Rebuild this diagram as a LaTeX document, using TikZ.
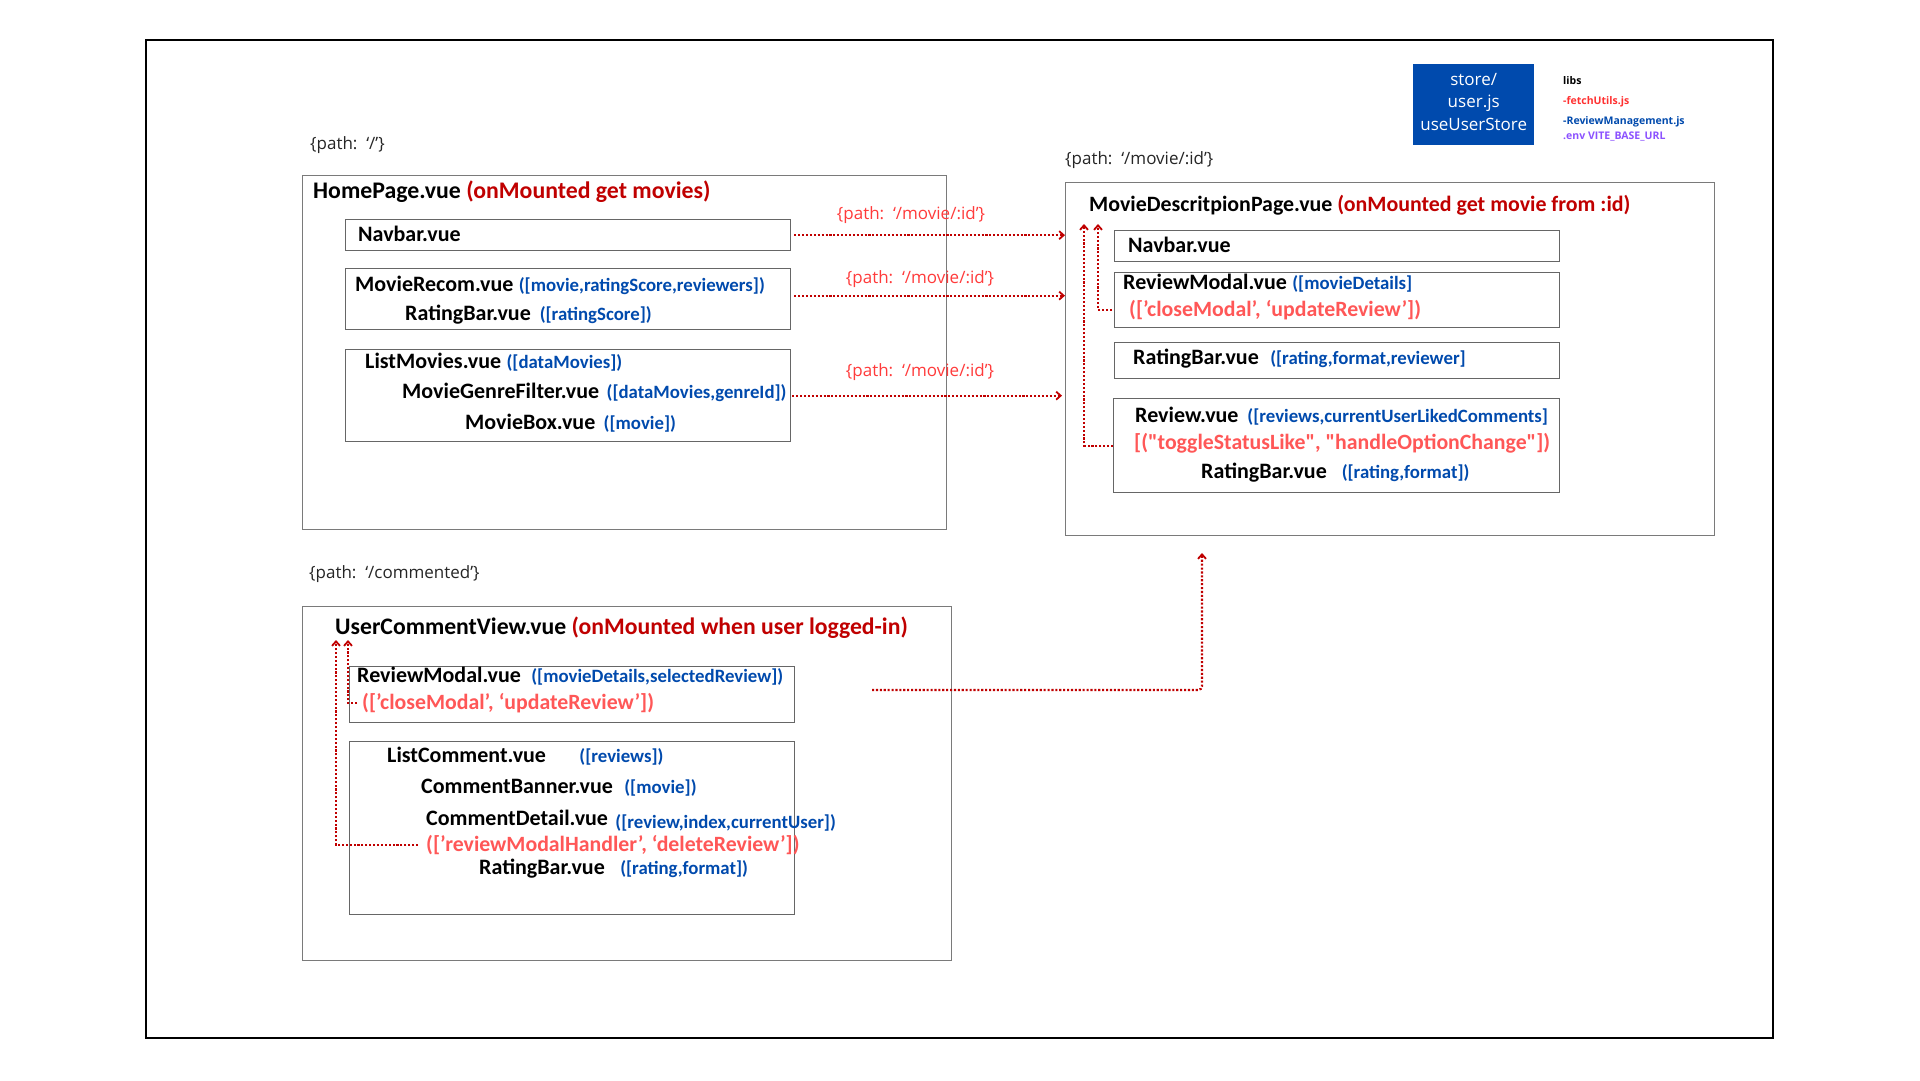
\documentclass[tikz,border=0pt]{standalone}
\usepackage{fontspec}
\setmainfont{Carlito}
\newfontfamily\pathfont{Open Sans}
% event lists keep their straight double quotes
\newfontfamily\emitfont{Carlito}[Ligatures=TeXOff]
\usetikzlibrary{arrows.meta,calc}

\definecolor{mountred}{HTML}{C00000}
\definecolor{linkred}{HTML}{C00000}
\definecolor{propblue}{HTML}{004AAD}
\definecolor{emitred}{HTML}{FF5757}
\definecolor{routered}{HTML}{FF3B3B}
\definecolor{storeblue}{HTML}{004AAD}
\definecolor{libred}{HTML}{FF3131}
\definecolor{libpurple}{HTML}{8C52FF}
\definecolor{boxgray}{HTML}{7A7A7A}

\begin{document}
\begin{tikzpicture}[x=1pt,y=-1pt,
  outerframe/.style={draw=black, line width=1.8pt},
  pagebox/.style={draw=boxgray, line width=1.3pt, anchor=north west, inner sep=0pt},
  compbox/.style={draw=black!60, line width=1.3pt, anchor=north west, inner sep=0pt},
  comp/.style={anchor=base west, inner sep=0pt, font=\bfseries\fontsize{22}{26}\selectfont},
  title/.style={anchor=base west, inner sep=0pt, font=\bfseries\fontsize{#1}{26}\selectfont},
  prop/.style={anchor=base west, inner sep=0pt, text=propblue, font=\bfseries\fontsize{18.8}{22}\selectfont},
  emit/.style={anchor=base west, inner sep=0pt, text=emitred, font=\emitfont\bfseries\fontsize{21.8}{25}\selectfont},
  route/.style={anchor=base west, inner sep=0pt, text=black!85, font=\pathfont\fontsize{17}{20}\selectfont},
  link/.style={anchor=base, inner sep=0pt, text=routered, font=\pathfont\fontsize{17}{20}\selectfont},
  lib/.style={anchor=base west, inner sep=0pt, font=\pathfont\bfseries\fontsize{10.5}{12}\selectfont},
  flow/.style={draw=linkred, line width=2.2pt, dash pattern=on 2.1pt off 1.8pt,
    -{Straight Barb[length=4.5pt,width=8pt,line width=1.8pt]}},
]
\fill[white] (0,0) rectangle (1920,1080);
\useasboundingbox (0,0) rectangle (1920,1080);
\draw[outerframe] (146,40) rectangle (1773,1038);

% store and libs
\node[anchor=north west, fill=storeblue, minimum width=121pt, minimum height=81pt, inner sep=0pt] (store) at (1413,64) {};
\node[text=white, font=\pathfont\fontsize{17}{22.5}\selectfont, align=center, inner sep=0pt] (storetxt) at ([yshift=3pt]store.center) {store/\\user.js\\useUserStore};
\node[lib] (libs) at (1563,84) {libs};
\node[lib, text=libred] (libfetch) at (1563,104) {-fetchUtils.js};
\node[lib, text=propblue] (libreview) at (1563,124) {-ReviewManagement.js};
\node[lib, text=libpurple] (libenv) at (1563,139) {.env VITE\_BASE\_URL};

% home page route
\node[route] (rhome) at (310,149) {\{path:\ \ ‘/’\}};
\node[pagebox, minimum width=644pt, minimum height=354pt] (home) at (302,175) {};
\node[title=23.8] (hometitle) at (313,198) {HomePage.vue \textcolor{mountred}{(onMounted get movies)}};

\node[compbox, minimum width=445pt, minimum height=31pt] (hnav) at (345,219) {};
\node[comp] (hnavtxt) at (358,241) {Navbar.vue};

\node[compbox, minimum width=445pt, minimum height=61pt] (hrec) at (345,268) {};
\node[comp] (hrectxt) at (355,291) {MovieRecom.vue};
\node[prop] (hrecprop) at ([xshift=5pt]hrectxt.base east) {([movie,ratingScore,reviewers])};
\node[comp] (hrecbar) at (405,320) {RatingBar.vue};
\node[prop] (hrecbarprop) at ([xshift=8.5pt]hrecbar.base east) {([ratingScore])};

\node[compbox, minimum width=445pt, minimum height=92pt] (hlist) at (345,349) {};
\node[comp] (hlisttxt) at (365,368) {ListMovies.vue};
\node[prop] (hlistprop) at ([xshift=5pt]hlisttxt.base east) {([dataMovies])};
\node[comp] (hgenre) at (402,398) {MovieGenreFilter.vue};
\node[prop] (hgenreprop) at ([xshift=7pt]hgenre.base east) {([dataMovies,genreId])};
\node[comp] (hbox) at (465,429) {MovieBox.vue};
\node[prop] (hboxprop) at ([xshift=8pt]hbox.base east) {([movie])};

% movie description route
\node[route] (rmovie) at (1065,164) {\{path:\ \ ‘/movie/:id’\}};
\node[pagebox, minimum width=649pt, minimum height=353pt] (mdp) at (1065,182) {};
\node[title=21.9] (mdptitle) at (1089,211) {MovieDescritpionPage.vue \textcolor{mountred}{(onMounted get movie from :id)}};

\node[compbox, minimum width=445pt, minimum height=31pt] (mnav) at (1114,230) {};
\node[comp] (mnavtxt) at (1128,252) {Navbar.vue};

\node[compbox, minimum width=445pt, minimum height=55pt] (mrm) at (1114,272) {};
\node[comp] (mrmtxt) at (1123,289) {ReviewModal.vue};
\node[prop] (mrmprop) at ([xshift=5pt]mrmtxt.base east) {([movieDetails]};
\node[emit] (mrmemit) at (1129,316) {([’closeModal’, ‘updateReview’])};

\node[compbox, minimum width=445pt, minimum height=36pt] (mrb) at (1114,342) {};
\node[comp] (mrbtxt) at (1133,364) {RatingBar.vue};
\node[prop] (mrbprop) at ([xshift=11pt]mrbtxt.base east) {([rating,format,reviewer]};

\node[compbox, minimum width=446pt, minimum height=94pt] (mrev) at (1113,398) {};
\node[comp] (mrevtxt) at (1135,422) {Review.vue};
\node[prop] (mrevprop) at ([xshift=8.5pt]mrevtxt.base east) {([reviews,currentUserLikedComments]};
\node[emit] (mrevemit) at (1134,449) {[("toggleStatusLike", "handleOptionChange"])};
\node[comp] (mrevbar) at (1201,478) {RatingBar.vue};
\node[prop] (mrevbarprop) at ([xshift=14.5pt]mrevbar.base east) {([rating,format])};

% commented route
\node[route] (rcomm) at (309,578) {\{path:\ \ ‘/commented’\}};
\node[pagebox, minimum width=649pt, minimum height=354pt] (ucv) at (302,606) {};
\node[title=23.7] (ucvtitle) at (335,634) {UserCommentView.vue \textcolor{mountred}{(onMounted when user logged-in)}};

\node[compbox, minimum width=445pt, minimum height=56pt] (urm) at (349,666) {};
\node[comp] (urmtxt) at (357,682) {ReviewModal.vue};
\node[prop] (urmprop) at ([xshift=10pt]urmtxt.base east) {([movieDetails,selectedReview])};
\node[emit] (urmemit) at (362,709) {([’closeModal’, ‘updateReview’])};

\node[compbox, minimum width=445pt, minimum height=173pt] (ulist) at (349,741) {};
\node[comp] (ulisttxt) at (387,762) {ListComment.vue};
\node[prop] (ulistprop) at ([xshift=33pt]ulisttxt.base east) {([reviews])};
\node[comp] (ubanner) at (421,793) {CommentBanner.vue};
\node[prop] (ubannerprop) at ([xshift=11pt]ubanner.base east) {([movie])};
\node[comp] (udetail) at (426,825) {CommentDetail.vue};
\node[prop] (udetailprop) at ([xshift=7pt,yshift=-3pt]udetail.base east) {([review,index,currentUser])};
\node[emit] (udetailemit) at (426,851) {([’reviewModalHandler’, ‘deleteReview’])};
\node[comp] (ubar) at (479,874) {RatingBar.vue};
\node[prop] (ubarprop) at ([xshift=15pt]ubar.base east) {([rating,format])};

% navigation links to the movie page
\node[link] (link1) at (911,219) {\{path:\ \ ‘/movie/:id’\}};
\node[link] (link2) at (920,283) {\{path:\ \ ‘/movie/:id’\}};
\node[link] (link3) at (920,376) {\{path:\ \ ‘/movie/:id’\}};

\draw[flow] ([xshift=3pt]hnav.east) -- (hnav.east -| mdp.west);
\draw[flow] ([xshift=3pt,yshift=3.5pt]hrec.east) -- ([yshift=3.5pt]hrec.east -| mdp.west);
\draw[flow] ([xshift=1pt]hlist.east) -- ([xshift=-3pt]hlist.east -| mdp.west);

\coordinate (ucvout) at (872,690);
\coordinate (mdpin) at (1202,553);
\draw[flow, rounded corners=4pt] (ucvout) -| (mdpin);

% emitted events bubbling up
\coordinate (mdpup1) at (1084,224);
\coordinate (mdpup2) at (1098,224);
\draw[flow] (mrev.west) -| (mdpup1);
\draw[flow] ([xshift=-2pt]mrmemit.west -| mrm.west) -| (mdpup2);

\coordinate (ucvup1) at (336,640);
\coordinate (ucvup2) at (348,640);
\draw[flow] ([xshift=-8pt,yshift=6pt]udetailemit.base west) -| (ucvup1);
\draw[flow] ([xshift=-5pt,yshift=6pt]urmemit.base west) -| (ucvup2);
\end{tikzpicture}
\end{document}
